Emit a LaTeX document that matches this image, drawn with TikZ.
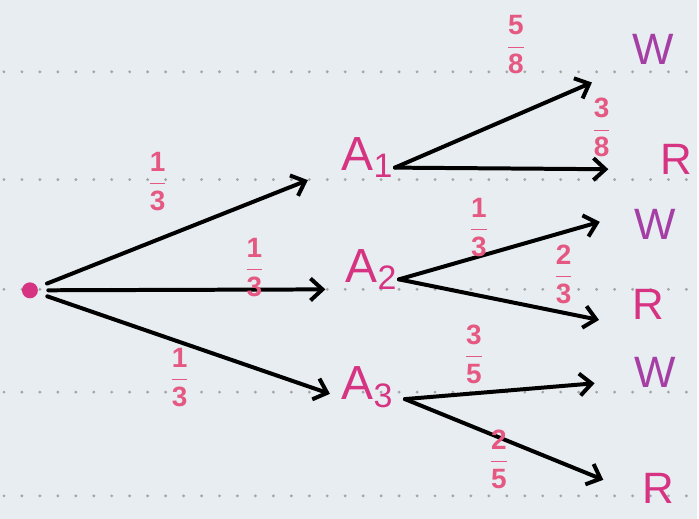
\documentclass[tikz,border=0pt]{standalone}
\usepackage{fontspec}
\setmainfont{Liberation Sans}
\usepackage{xcolor}
\usepackage{tikz}
\usetikzlibrary{arrows.meta}
\definecolor{paper}{RGB}{231,237,241}
\definecolor{ink}{RGB}{214,52,130}
\definecolor{inkw}{RGB}{165,62,165}
\definecolor{inkf}{RGB}{228,88,130}
\newcommand\fr[2]{$\displaystyle\frac{\mbox{#1}}{\mbox{#2}}$}
\tikzset{
  evt/.style={inner sep=1pt, text=ink, font=\fontsize{24}{24}\selectfont},
  leaf/.style={inner sep=1pt, font=\fontsize{22}{22}\selectfont},
  prob/.style={inner sep=0pt, text=inkf, font=\fontsize{14}{16}\selectfont\bfseries},
  arr/.style={-{Straight Barb[length=6pt,width=11pt]}, line width=2pt, line cap=round},
  rule/.style={gray!70, line width=1.6pt, line cap=round, dash pattern=on 0pt off 9pt}
}
\begin{document}
\begin{tikzpicture}[x=0.5pt,y=-0.5pt]
  \fill[paper] (0,0) rectangle (699,520);
  % ruled lines
  \foreach \y in {72,180,290,393,497}
    \draw[rule] (4,\y) -- (699,\y);

  \node[circle, fill=ink, inner sep=0pt, minimum size=8pt] (root) at (30,291) {};
  \node[evt] (a1) at (368,158) {A\raisebox{-0.3ex}{\fontsize{17}{17}\selectfont 1}};
  \node[evt] (a2) at (372,270) {A\raisebox{-0.3ex}{\fontsize{17}{17}\selectfont 2}};
  \node[evt] (a3) at (368,388) {A\raisebox{-0.3ex}{\fontsize{17}{17}\selectfont 3}};

  \node[leaf, text=inkw] (w1) at (655,50) {W};
  \node[leaf, text=ink] (r1) at (678,160) {R};
  \node[leaf, text=inkw] (w2) at (657,225) {W};
  \node[leaf, text=ink] (r2) at (650,305) {R};
  \node[leaf, text=inkw] (w3) at (657,373) {W};
  \node[leaf, text=ink] (r3) at (660,490) {R};

  \draw[arr, shorten <=5pt, shorten >=17pt] (root) -- ([yshift=-5]a1.west);
  \draw[arr, shorten <=5pt, shorten >=9pt] (root) -- ([yshift=-10]a2.west);
  \draw[arr, shorten <=5pt, shorten >=5pt] (root) -- ([yshift=-5]a3.west);

  \draw[arr, shorten >=21pt] ([yshift=-5]a1.east) -- ([yshift=-8]w1.west);
  \draw[arr, shorten >=25pt] ([yshift=-5]a1.east) -- ([yshift=-5]r1.west);
  \draw[arr, shorten >=17pt] ([yshift=-5]a2.east) -- ([yshift=6]w2.west);
  \draw[arr, shorten >=16pt] ([yshift=-5]a2.east) -- ([yshift=-11]r2.west);
  \draw[arr, shorten >=19pt] ([xshift=5,yshift=-6]a3.east) -- ([yshift=-4]w3.west);
  \draw[arr, shorten >=20pt] ([xshift=5,yshift=-6]a3.east) -- ([yshift=-3]r3.west);

  \node[prob] (p1) at (158,182) {\fr{1}{3}};
  \node[prob] (p2) at (255,268) {\fr{1}{3}};
  \node[prob] (p3) at (180,378) {\fr{1}{3}};
  \node[prob] (p11) at (517,45) {\fr{5}{8}};
  \node[prob] (p12) at (603,128) {\fr{3}{8}};
  \node[prob] (p21) at (480,228) {\fr{1}{3}};
  \node[prob] (p22) at (565,275) {\fr{2}{3}};
  \node[prob] (p31) at (475,355) {\fr{3}{5}};
  \node[prob] (p32) at (500,460) {\fr{2}{5}};
\end{tikzpicture}
\end{document}
